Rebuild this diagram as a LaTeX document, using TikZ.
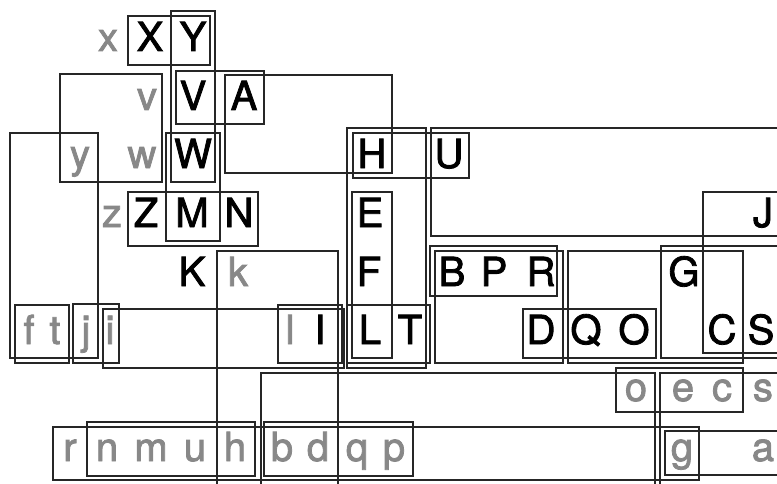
\documentclass[tikz,border=0pt]{standalone}
\usepackage{fontspec}
\setmainfont{TeX Gyre Heros}
\newfontfamily\hvfont{TeX Gyre Heros}[FakeBold=2]
\begin{document}
\begin{tikzpicture}[x=1pt,y=-1pt,
  lt/.style={anchor=base,inner sep=0pt,font=\hvfont\fontsize{40}{40}\selectfont},
  up/.style={lt,text=black},
  lo/.style={lt,text=gray50},
  grp/.style={draw=black!85,line width=1.1pt}]
\definecolor{gray50}{HTML}{888888}
\useasboundingbox (0,0) rectangle (777,484);
\clip (0,0) rectangle (777,484);
% letters
\foreach \t/\x/\y in {X/150/51,Y/193/51,V/193/110,A/244/110,W/193/168,H/372/168,U/449/168,
  Z/146/227,M/192/227,N/239/227,E/370/227,J/763/227,
  K/192/286,F/369/286,B/452/286,P/494/286,R/541/286,G/684/286,
  I/320/344,L/370/344,T/410/344,D/541/344,Q/586/344,O/634/344,C/722/344,S/761/344}
  \node[up] (n-\t) at (\x,\y) {\t};
\foreach \t/\x/\y in {x/108/51,v/147/110,y/80/168,w/142/168,z/112/227,k/238/286,
  f/29/344,t/55/344,j/86/344,i/110/344,l/290/344,
  o/636/401,e/683/401,c/722/401,s/763/401,
  r/70/461,n/107/461,m/151/461,u/195/461,h/235/461,b/282/461,d/318/461,q/357/461,p/394/461,g/682/461,a/763/461}
  \node[lo] (n-\t) at (\x,\y) {\t};
% groups
\foreach \a/\b/\c/\d in {128/16/210/65, 171/11/215/182, 176/71/264/124, 225/75/392/173,
  60/74/162/182, 10/133/98/358, 166/133/220/241, 353/133/469/178, 347/128/426/368,
  431/128/790/236, 128/192/258/246, 352/192/392/358, 703/192/790/353, 217/251/338/500,
  430/246/557/296, 435/251/563/363, 568/251/743/363, 661/246/790/358,
  15/305/69/363, 73/304/119/363, 103/309/344/368, 278/305/342/363, 347/305/430/363,
  523/309/656/358, 616/368/743/412, 261/373/655/500, 660/373/790/500,
  53/427/699/480, 87/422/255/476, 264/422/413/476, 665/431/790/475}
  \draw[grp] (\a,\b) rectangle (\c,\d);
\end{tikzpicture}
\end{document}
